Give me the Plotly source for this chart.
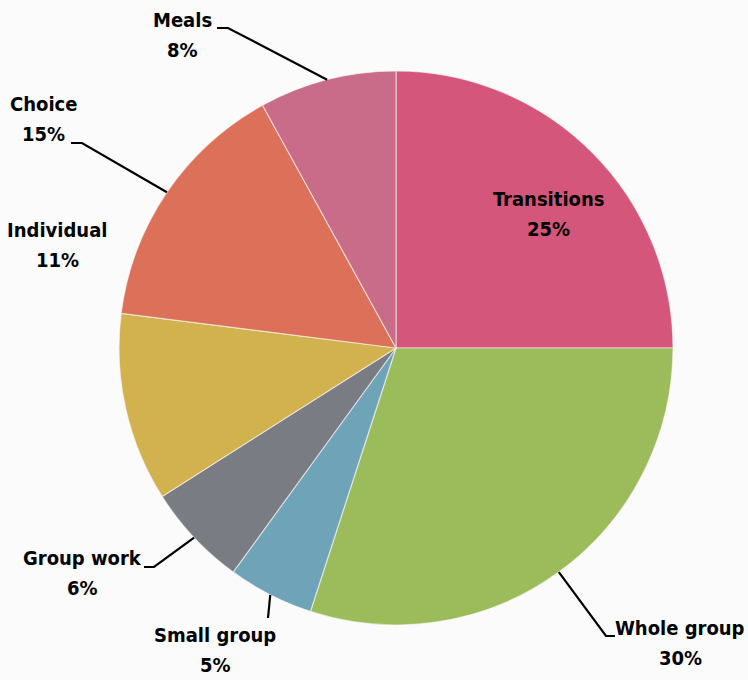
import math
import plotly.graph_objects as go

# ---- data ----
categories = ["Transitions", "Whole group", "Small group", "Group work",
              "Individual", "Choice", "Meals"]
percent = [25, 30, 5, 6, 11, 15, 8]
slice_colors = ["#d4567a", "#9cbc5c", "#6ea3b8", "#7a7c83",
                "#d2b24e", "#dc7058", "#c96c8a"]

# ---- layout constants (pixels) ----
W, H = 748, 680
CX, CY, R = 396, 348, 277
FONT = "DejaVu Sans Condensed, DejaVu Sans, sans-serif"
LINE_GAP = 30  # px between label line centres

# label centres (px) and leader-line elbows (px)
label_pos = {
    "Transitions": (548, 214),
    "Whole group": (680, 643),
    "Small group": (215, 650),
    "Group work": (82, 573),
    "Individual": (57, 245),
    "Choice": (43, 119),
    "Meals": (182, 35),
}
leader_path = {
    "Whole group": [(606, 636), (615, 636)],
    "Small group": [(268, 618)],
    "Group work": [(154, 567), (144, 567)],
    "Choice": [(82, 143), (71, 143)],
    "Meals": [(228, 28), (217, 28)],
}


def px(x):
    return x / W


def py(y):
    return 1 - y / H


fig = go.Figure()
fig.add_trace(go.Pie(
    labels=categories,
    values=percent,
    sort=False,
    direction="clockwise",
    rotation=0,
    textinfo="none",
    hoverinfo="label+percent",
    marker=dict(colors=slice_colors,
                line=dict(color="rgba(255,255,255,0.55)", width=1.2)),
    domain=dict(x=[px(CX - R), px(CX + R)], y=[py(CY + R), py(CY - R)]),
    showlegend=False,
))

annotations = []
shapes = []
total = sum(percent)
cum = 0
sp = '<span style="font-stretch:condensed">'
for name, v in zip(categories, percent):
    mid = (cum + v / 2) / total * 2 * math.pi
    cum += v
    lx, ly = label_pos[name]
    for txt, dy in ((name, -LINE_GAP / 2),
                    (f"{round(v / total * 100)}%", LINE_GAP / 2)):
        annotations.append(dict(
            x=px(lx), y=py(ly + dy), xref="paper", yref="paper",
            text=f"{sp}{txt}</span>",
            showarrow=False, xanchor="center", yanchor="middle",
            font=dict(family=FONT, size=20, color="black", weight="bold"),
        ))
    if name in leader_path:
        ax = CX + R * math.sin(mid)
        ay = CY - R * math.cos(mid)
        pts = [(ax, ay)] + leader_path[name]
        d = "M " + " L ".join(f"{px(x):.5f},{py(y):.5f}" for x, y in pts)
        shapes.append(dict(type="path", path=d, xref="paper", yref="paper",
                           line=dict(color="black", width=2.2)))

fig.update_layout(
    width=W, height=H,
    margin=dict(l=0, r=0, t=0, b=0),
    paper_bgcolor="#fbfbfb",
    plot_bgcolor="#fbfbfb",
    annotations=annotations,
    shapes=shapes,
)

fig.write_html("out.html")
